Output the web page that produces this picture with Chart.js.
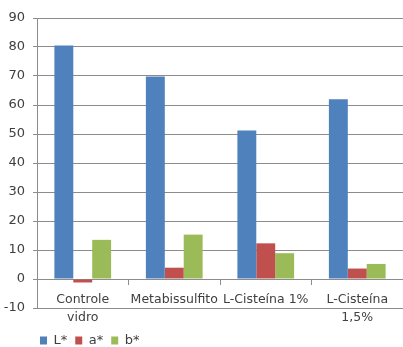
<!DOCTYPE html>
<html>
<head>
<meta charset="utf-8">
<script src="https://cdn.jsdelivr.net/npm/chart.js@4"></script>
<style>
    html, body { margin: 0; padding: 0; background: #ffffff; }
    #colorChart { display: block; }
</style>
</head>
<body>
<canvas id="colorChart" width="403" height="347"></canvas>
<script>
// treatments on the x axis (multi-line labels are arrays)
const categories = [['Controle', 'vidro'], 'Metabissulfito', 'L-Cisteína 1%', ['L-Cisteína', '1,5%']];

// colour coordinates per treatment
const lValues = [80.5, 69.8, 51.2, 62.0];
const aValues = [-1.2, 3.9, 12.3, 3.6];
const bValues = [13.5, 15.3, 8.9, 5.2];

const yTicks = { min: -10, max: 90, step: 10 };

const CHART_COLORS = {
    blue: '#4F81BD',
    red: '#C0504D',
    green: '#9BBB59',
    grid: '#8C8C8C',
    text: '#404040',
};

// nudge the legend down and right so it sits under the first category
const legendShift = {
    id: 'legendShift',
    afterLayout(chart) {
        const legend = chart.legend;
        legend.left += 32;
        legend.right += 32;
        legend.top += 18;
        legend.bottom += 18;
    }
};

const ctx = document.getElementById('colorChart');

const colorChartConfig = {
    type: 'bar',
    data: {
        labels: categories,
        datasets: [
            { label: 'L*', data: lValues, backgroundColor: CHART_COLORS.blue },
            { label: 'a*', data: aValues, backgroundColor: CHART_COLORS.red },
            { label: 'b*', data: bValues, backgroundColor: CHART_COLORS.green },
        ]
    },
    plugins: [legendShift],
    options: {
        responsive: false,
        animation: false,
        datasets: {
            bar: {
                categoryPercentage: 0.62,
                barPercentage: 1.0,
            }
        },
        layout: {
            padding: { left: 0, right: 0, top: 18, bottom: 8 }
        },
        plugins: {
            tooltip: { enabled: false },
            legend: {
                position: 'bottom',
                align: 'start',
                labels: {
                    boxWidth: 7,
                    boxHeight: 8,
                    padding: 8,
                    color: CHART_COLORS.text,
                    font: { family: 'DejaVu Sans', size: 13 }
                }
            }
        },
        scales: {
            x: {
                // axis line sits on the zero value like a spreadsheet chart
                position: { y: 0 },
                grid: {
                    display: true,
                    drawOnChartArea: false,
                    drawTicks: true,
                    tickLength: 5,
                    offset: true,
                    color: CHART_COLORS.grid,
                },
                border: { display: true, color: CHART_COLORS.grid },
                ticks: {
                    autoSkip: false,
                    maxRotation: 0,
                    padding: 6,
                    color: CHART_COLORS.text,
                    font: { family: 'DejaVu Sans', size: 12.5, lineHeight: 1.5 }
                }
            },
            y: {
                min: yTicks.min,
                max: yTicks.max,
                afterFit(scale) {
                    scale.width = 37;
                },
                grid: {
                    color: CHART_COLORS.grid,
                    tickLength: 4,
                },
                border: { display: true, color: CHART_COLORS.grid },
                ticks: {
                    stepSize: yTicks.step,
                    padding: 8,
                    color: CHART_COLORS.text,
                    font: { family: 'DejaVu Sans', size: 13 }
                }
            }
        }
    }
};

const colorChart = new Chart(ctx, colorChartConfig);
</script>
</body>
</html>
